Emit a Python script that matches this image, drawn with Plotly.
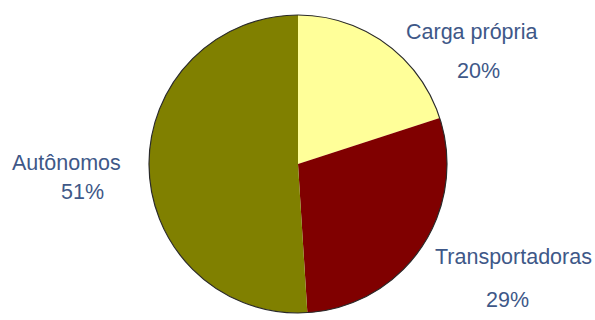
import plotly.graph_objects as go

# Share of cargo transport by carrier type (%)
categories = ["Carga própria", "Transportadoras", "Autônomos"]
shares = [20, 29, 51]
slice_colors = ["#FFFF99", "#800000", "#808000"]

W, H = 595, 320
cx, cy, r = 298, 164, 149  # pie centre (px from top-left) and radius

dom_x = [(cx - r) / W, (cx + r) / W]
dom_y = [(H - cy - r) / H, (H - cy + r) / H]

fig = go.Figure(
    go.Pie(
        labels=categories,
        values=shares,
        sort=False,
        direction="clockwise",
        rotation=0,
        marker=dict(colors=slice_colors, line=dict(width=0)),
        textinfo="none",
        hoverinfo="label+percent",
        domain=dict(x=dom_x, y=dom_y),
        showlegend=False,
    )
)

# thin dark rim around the pie
fig.add_shape(
    type="circle", xref="paper", yref="paper",
    x0=dom_x[0], x1=dom_x[1], y0=dom_y[0], y1=dom_y[1],
    line=dict(color="#2a2a2a", width=1.2),
)

label_font = dict(family="Liberation Sans, Arial, sans-serif", size=21.5, color="#3E5888")

# (name centre x, name centre y, percent centre x, percent centre y) in px
label_pos = {
    "Carga própria": (471, 32, 478, 71),
    "Transportadoras": (513, 257, 507, 300),
    "Autônomos": (66, 163, 82, 192),
}

for name, val in zip(categories, shares):
    nx, ny, px, py = label_pos[name]
    fig.add_annotation(
        text=name, x=nx / W, y=1 - ny / H, xref="paper", yref="paper",
        xanchor="center", yanchor="middle", showarrow=False, font=label_font,
    )
    fig.add_annotation(
        text=f"{val}%", x=px / W, y=1 - py / H, xref="paper", yref="paper",
        xanchor="center", yanchor="middle", showarrow=False, font=label_font,
    )

fig.update_layout(
    width=W, height=H,
    margin=dict(l=0, r=0, t=0, b=0),
    paper_bgcolor="white",
    plot_bgcolor="white",
)

fig.write_html("out.html")
